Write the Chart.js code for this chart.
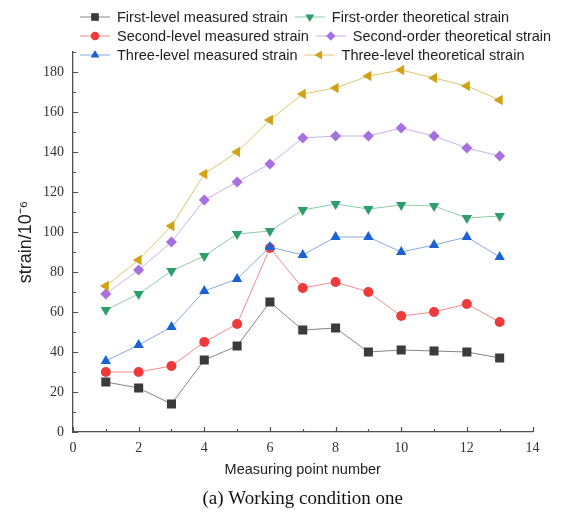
<!DOCTYPE html>
<html>
<head>
<meta charset="utf-8">
<script src="https://cdn.jsdelivr.net/npm/chart.js@4.4.1/dist/chart.umd.min.js"></script>
<style>
  html, body { margin: 0; padding: 0; background: #fff; }
</style>
</head>
<body>
<canvas id="chart" width="569" height="515"></canvas>
<script>
// measuring points
const points = [1, 2, 3, 4, 5, 6, 7, 8, 9, 10, 11, 12, 13];

// strain values (10^-6)
const firstMeasured   = [25, 22, 14, 36, 43, 65, 51, 52, 40, 41, 40.5, 40, 37];
const firstTheory     = [61, 69, 80.5, 88, 99, 100.5, 111, 114, 111.5, 113.5, 113, 107, 108];
const secondMeasured  = [30, 30, 33, 45, 54, 92, 72, 75, 70, 58, 60, 64, 55];
const secondTheory    = [69, 81, 95, 116, 125, 134, 147, 148, 148, 152, 148, 142, 138];
const thirdMeasured   = [35.5, 43.5, 52.5, 70.5, 76.5, 92.5, 88.5, 97.5, 97.5, 90, 93.5, 97.5, 87.5];
const thirdTheory     = [73, 86, 103, 129, 140, 156, 169, 172, 178, 181, 177, 173, 166];

const labels = [
  'First-level measured strain', 'First-order theoretical strain',
  'Second-level measured strain', 'Second-order theoretical strain',
  'Three-level measured strain', 'Three-level theoretical strain'
];

// axis ticks
const xTicks = [0, 2, 4, 6, 8, 10, 12, 14];
const xMinor = [1, 3, 5, 7, 9, 11, 13];
const yTicks = [0, 20, 40, 60, 80, 100, 120, 140, 160, 180];
const yMinor = [10, 30, 50, 70, 90, 110, 130, 150, 170, 190];

const toXY = vals => vals.map((v, i) => ({ x: points[i], y: v }));

function series(label, vals, marker, line, style, rot, radius, order) {
  return {
    label: label,
    data: toXY(vals),
    borderColor: line,
    borderWidth: 1,
    pointBackgroundColor: marker,
    pointBorderWidth: 0,
    pointStyle: style,
    pointRotation: rot,
    pointRadius: radius,
    order: order
  };
}

const datasets = [
  series(labels[0], firstMeasured, '#3b3b3b', '#858585', 'rect', 0, 6.4, 5),
  series(labels[1], firstTheory, '#2c9f6c', '#8fcaa9', 'triangle', 180, 6, 4),
  series(labels[2], secondMeasured, '#ee3a3a', '#f28b8b', 'circle', 0, 5, 3),
  series(labels[3], secondTheory, '#a770de', '#cbaeee', 'rectRot', 0, 5.5, 2),
  series(labels[4], thirdMeasured, '#1d62d4', '#86a9e4', 'triangle', 0, 6, 1),
  series(labels[5], thirdTheory, '#d1a116', '#e0c46c', 'triangle', 270, 6, 0)
];

// legend with line + marker samples, two items per row, left aligned
const lineLegend = {
  id: 'lineLegend',
  afterDraw(chart) {
    const ctx = chart.ctx;
    const rowY = [17, 36, 55];
    ctx.save();
    ctx.font = '14.5px "Liberation Sans", Arial, sans-serif';
    ctx.textBaseline = 'middle';
    for (let r = 0; r < 3; r++) {
      let x = 80;
      const y = rowY[r];
      [r * 2, r * 2 + 1].forEach(i => {
        const ds = chart.data.datasets[i];
        ctx.strokeStyle = ds.borderColor;
        ctx.lineWidth = 1;
        ctx.beginPath(); ctx.moveTo(x, y); ctx.lineTo(x + 30, y); ctx.stroke();
        ctx.fillStyle = ds.pointBackgroundColor;
        Chart.helpers.drawPoint(ctx, {
          pointStyle: ds.pointStyle, rotation: ds.pointRotation,
          radius: ds.pointRadius * 0.85, borderWidth: 0
        }, x + 15, y);
        ctx.fillStyle = '#222';
        ctx.fillText(ds.label, x + 37, y + 1);
        x += 37 + ctx.measureText(ds.label).width + 7;
      });
    }
    ctx.restore();
  }
};

// inward tick marks
const innerTicks = {
  id: 'innerTicks',
  afterDraw(chart) {
    const { ctx, scales: { x, y } } = chart;
    ctx.save();
    ctx.strokeStyle = '#505050';
    ctx.lineWidth = 1.2;
    ctx.beginPath();
    xTicks.concat(xMinor).forEach(v => {
      const px = Math.round(x.getPixelForValue(v)) + 0.5;
      const len = xMinor.includes(v) ? 3 : 5;
      ctx.moveTo(px, y.bottom); ctx.lineTo(px, y.bottom - len);
    });
    yTicks.concat(yMinor).forEach(v => {
      const py = Math.round(y.getPixelForValue(v)) + 0.5;
      const len = yMinor.includes(v) ? 3 : 5;
      ctx.moveTo(x.left, py); ctx.lineTo(x.left + len, py);
    });
    ctx.stroke();
    ctx.restore();
  }
};

const serif = '"Liberation Serif", "Times New Roman", serif';
const sans = '"Liberation Sans", Arial, sans-serif';

new Chart(document.getElementById('chart'), {
  type: 'line',
  data: { datasets: datasets },
  options: {
    responsive: false,
    animation: false,
    layout: { padding: { top: 52, right: 36.5, left: 0, bottom: 4.6 } },
    plugins: {
      legend: { display: false },
      tooltip: { enabled: false },
      title: {
        display: true,
        position: 'bottom',
        fullSize: false,
        text: '(a) Working condition one',
        color: '#111',
        font: { family: serif, size: 19, weight: 'normal' },
        padding: { top: 0, bottom: 0 }
      }
    },
    scales: {
      x: {
        type: 'linear',
        min: 0, max: 14,
        afterBuildTicks: s => { s.ticks = xTicks.map(v => ({ value: v })); },
        afterFit: s => { s.height = 55.6; },
        grid: { display: true, drawOnChartArea: false, drawTicks: false },
        border: { display: true, color: '#505050', width: 1.3 },
        ticks: { padding: 8, color: '#333', font: { family: serif, size: 14 } },
        title: {
          display: true, text: 'Measuring point number', color: '#222',
          font: { family: sans, size: 14.5 }, padding: { top: 0, bottom: 8.9 }
        }
      },
      y: {
        type: 'linear',
        min: 0, max: 190,
        afterBuildTicks: s => { s.ticks = yTicks.map(v => ({ value: v })); },
        afterFit: s => { s.width = 73; },
        grid: { display: true, drawOnChartArea: false, drawTicks: false },
        border: { display: true, color: '#505050', width: 1.3 },
        ticks: { padding: 9, color: '#333', font: { family: serif, size: 14 } },
        title: {
          display: true, text: 'strain/10⁻⁶', color: '#222',
          font: { family: sans, size: 18 }, padding: { top: 15, bottom: 0 }
        }
      }
    }
  },
  plugins: [lineLegend, innerTicks]
});
</script>
</body>
</html>
